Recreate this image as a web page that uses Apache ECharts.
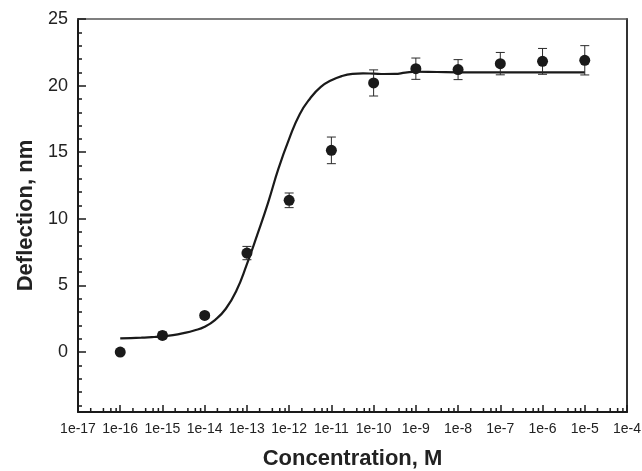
<!DOCTYPE html>
<html><head><meta charset="utf-8">
<script src="https://cdn.jsdelivr.net/npm/echarts@6/dist/echarts.min.js"></script>
<style>html,body{margin:0;padding:0;background:#fff}#c{width:642px;height:471px}</style>
</head><body><div id="c"></div>
<script>
// measured points
const concentrations = [1e-16, 1e-15, 1e-14, 1e-13, 1e-12, 1e-11, 1e-10, 1e-9, 1e-8, 1e-7, 1e-6, 1e-5];
const deflection     = [0, 1.25, 2.75, 7.43, 11.39, 15.14, 20.2, 21.27, 21.2, 21.65, 21.82, 21.9];
const deflectionErr  = [0.12, 0.25, 0.2, 0.5, 0.55, 1.0, 0.98, 0.8, 0.75, 0.84, 0.97, 1.1];
// fitted curve (exponent of concentration, deflection)
const fitExponent   = [-16, -15.75, -15.5, -15.25, -15, -14.75, -14.5, -14.25, -14, -13.75, -13.5, -13.25, -13, -12.75, -12.5, -12.25, -12, -11.75, -11.5, -11.25, -11, -10.75, -10.5, -10.25, -10, -9.75, -9.5, -9.25, -9, -8.5, -8, -7, -6, -5];
const fitDeflection = [1.02, 1.05, 1.08, 1.12, 1.18, 1.27, 1.42, 1.62, 1.9, 2.42, 3.25, 4.6, 6.6, 8.85, 11.2, 13.8, 16.0, 17.85, 19.05, 19.9, 20.4, 20.72, 20.88, 20.92, 20.9, 20.87, 20.88, 20.97, 21.04, 21.02, 21.0, 21.0, 21.0, 21.0];
// axis ticks
const xTickLabels = ['1e-17','1e-16','1e-15','1e-14','1e-13','1e-12','1e-11','1e-10','1e-9','1e-8','1e-7','1e-6','1e-5','1e-4'];
const xDecades = [-17,-16,-15,-14,-13,-12,-11,-10,-9,-8,-7,-6,-5];
const xMinorMultipliers = [2, 4, 6, 8];
const yMajorTicks = [0, 5, 10, 15, 20, 25];
const yMinorTicks = [-4,-3,-2,-1,1,2,3,4,6,7,8,9,11,12,13,14,16,17,18,19,21,22,23,24];
const yMin = -4.5, yMax = 25;

const xMinorTicks = [];
xDecades.forEach(d => xMinorMultipliers.forEach(m => xMinorTicks.push([m * Math.pow(10, d), yMin])));

const scatterData = concentrations.map((c, i) => [c, deflection[i]]);
const errData = concentrations.map((c, i) => [c, deflection[i] - deflectionErr[i], deflection[i] + deflectionErr[i]]);
const fitData = fitExponent.map((e, i) => [Math.pow(10, e), fitDeflection[i]]);

const INK = '#1a1a1a';
const FONT = 'Liberation Sans, Arial, sans-serif';
const chart = echarts.init(document.getElementById('c'), null, {renderer: 'canvas'});
chart.setOption({
  backgroundColor: '#fff',
  animation: false,
  grid: {left: 78, right: 15, top: 19, bottom: 59, show: false, containLabel: false, outerBoundsMode: 'none'},
  xAxis: [{
    type: 'log', logBase: 10, min: 1e-17, max: 1e-4, interval: 1, position: 'bottom',
    axisLine: {show: true, onZero: false, lineStyle: {color: INK, width: 2}},
    axisTick: {show: true, inside: true, length: 7, lineStyle: {color: INK, width: 1.5}},
    axisLabel: {
      show: true, margin: 10, fontSize: 14, color: '#222', fontFamily: FONT,
      formatter: v => xTickLabels[Math.round(Math.log10(v)) + 17]
    },
    splitLine: {show: false}, minorTick: {show: false},
    name: 'Concentration, M', nameLocation: 'middle', nameGap: 36,
    nameTextStyle: {fontSize: 22, fontWeight: 'bold', color: '#222', fontFamily: FONT}
  }, {
    type: 'value', position: 'top', min: 0, max: 1,
    axisLine: {show: true, onZero: false, lineStyle: {color: '#555', width: 1.5}},
    axisTick: {show: false}, axisLabel: {show: false}, splitLine: {show: false}
  }],
  yAxis: [{
    type: 'value', min: yMin, max: yMax, position: 'left',
    axisLine: {show: true, onZero: false, lineStyle: {color: INK, width: 2}},
    axisTick: {show: true, inside: true, length: 8, customValues: yMajorTicks, lineStyle: {color: INK, width: 1.5}},
    axisLabel: {show: true, customValues: yMajorTicks, margin: 10, fontSize: 18, color: '#222', fontFamily: FONT},
    splitLine: {show: false},
    name: 'Deflection, nm', nameLocation: 'middle', nameGap: 40, nameRotate: 90,
    nameTextStyle: {fontSize: 22, fontWeight: 'bold', color: '#222', fontFamily: FONT}
  }, {
    type: 'value', min: yMin, max: yMax, position: 'left',
    axisLine: {show: false},
    axisTick: {show: true, inside: true, length: 4, customValues: yMinorTicks, lineStyle: {color: INK, width: 1.5}},
    axisLabel: {show: false}, splitLine: {show: false}
  }, {
    type: 'value', min: yMin, max: yMax, position: 'right',
    axisLine: {show: true, onZero: false, lineStyle: {color: '#333', width: 2}},
    axisTick: {show: false}, axisLabel: {show: false}, splitLine: {show: false}
  }],
  series: [{
    type: 'custom', name: 'xMinor', xAxisIndex: 0, yAxisIndex: 0, clip: false, silent: true,
    data: xMinorTicks, encode: {x: 0, y: 1},
    renderItem: (params, api) => {
      const p = api.coord([api.value(0), api.value(1)]);
      return {type: 'line', shape: {x1: p[0], y1: p[1], x2: p[0], y2: p[1] - 4}, style: {stroke: INK, lineWidth: 1.5}};
    }
  }, {
    type: 'line', name: 'fit', xAxisIndex: 0, yAxisIndex: 0, data: fitData, smooth: 0.5, showSymbol: false,
    lineStyle: {color: INK, width: 2.2, opacity: 1}, z: 3
  }, {
    type: 'custom', name: 'err', xAxisIndex: 0, yAxisIndex: 0, data: errData, encode: {x: 0, y: [1, 2]}, z: 4,
    renderItem: (params, api) => {
      const x = api.value(0);
      const lo = api.coord([x, api.value(1)]);
      const hi = api.coord([x, api.value(2)]);
      const w = 4.5;
      const st = {stroke: '#2a2a2a', lineWidth: 1};
      return {type: 'group', children: [
        {type: 'line', shape: {x1: lo[0], y1: lo[1], x2: hi[0], y2: hi[1]}, style: st},
        {type: 'line', shape: {x1: lo[0] - w, y1: lo[1], x2: lo[0] + w, y2: lo[1]}, style: st},
        {type: 'line', shape: {x1: hi[0] - w, y1: hi[1], x2: hi[0] + w, y2: hi[1]}, style: st}
      ]};
    }
  }, {
    type: 'scatter', name: 'data', xAxisIndex: 0, yAxisIndex: 0, data: scatterData,
    symbol: 'circle', symbolSize: 11, itemStyle: {color: INK, opacity: 1}, z: 5
  }]
});
</script>
</body></html>
